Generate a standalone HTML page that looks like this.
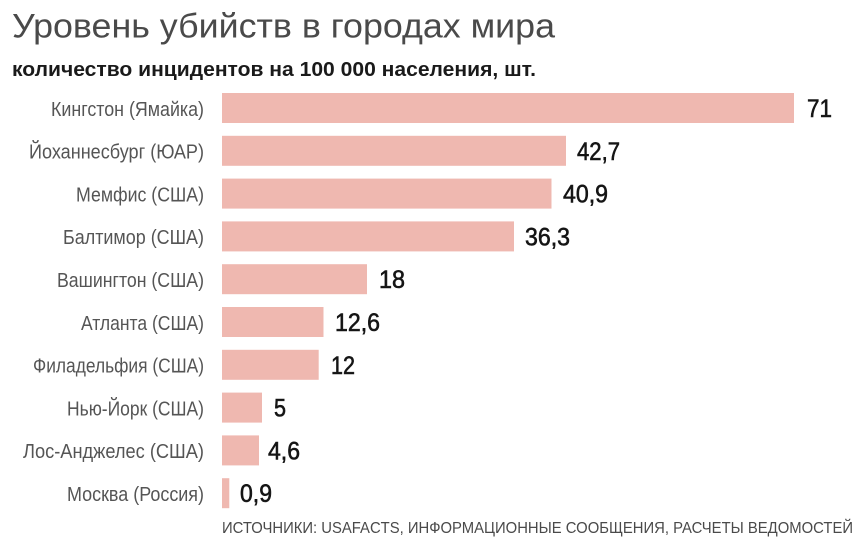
<!DOCTYPE html>
<html>
<head>
<meta charset="utf-8">
<style>
  html, body { margin: 0; padding: 0; background: #ffffff; }
  svg { display: block; }
  text { font-family: "Liberation Sans", "DejaVu Sans", sans-serif; }
</style>
</head>
<body>
<svg width="865" height="545" viewBox="0 0 865 545" xmlns="http://www.w3.org/2000/svg">
  <rect x="0" y="0" width="865" height="545" fill="#ffffff"/>

  <!-- Title -->
  <text x="12" y="37.5" font-size="34" fill="#4a4a4a" textLength="543" lengthAdjust="spacingAndGlyphs">Уровень убийств в городах мира</text>
  <!-- Subtitle -->
  <text x="12" y="76" font-size="20" font-weight="bold" fill="#1a1a1a" textLength="524" lengthAdjust="spacingAndGlyphs">количество инцидентов на 100 000 населения, шт.</text>

  <!-- Bars -->
  <g fill="#efb8b0">
    <rect x="222" y="93" width="572" height="30"/>
    <rect x="222" y="135.8" width="344" height="30"/>
    <rect x="222" y="178.6" width="329.5" height="30"/>
    <rect x="222" y="221.4" width="292" height="30"/>
    <rect x="222" y="264.2" width="145" height="30"/>
    <rect x="222" y="307" width="101.5" height="30"/>
    <rect x="222" y="349.8" width="96.7" height="30"/>
    <rect x="222" y="392.6" width="40" height="30"/>
    <rect x="222" y="435.4" width="37" height="30"/>
    <rect x="222" y="478.2" width="7.3" height="30"/>
  </g>

  <!-- Category labels -->
  <g font-size="20" fill="#555555" text-anchor="end">
    <text x="204" y="115.8" textLength="153" lengthAdjust="spacingAndGlyphs">Кингстон (Ямайка)</text>
    <text x="204" y="158.6" textLength="175" lengthAdjust="spacingAndGlyphs">Йоханнесбург (ЮАР)</text>
    <text x="204" y="201.4" textLength="128" lengthAdjust="spacingAndGlyphs">Мемфис (США)</text>
    <text x="204" y="244.2" textLength="141" lengthAdjust="spacingAndGlyphs">Балтимор (США)</text>
    <text x="204" y="287" textLength="147" lengthAdjust="spacingAndGlyphs">Вашингтон (США)</text>
    <text x="204" y="329.8" textLength="123" lengthAdjust="spacingAndGlyphs">Атланта (США)</text>
    <text x="204" y="372.6" textLength="171" lengthAdjust="spacingAndGlyphs">Филадельфия (США)</text>
    <text x="204" y="415.4" textLength="137" lengthAdjust="spacingAndGlyphs">Нью-Йорк (США)</text>
    <text x="204" y="458.2" textLength="181" lengthAdjust="spacingAndGlyphs">Лос-Анджелес (США)</text>
    <text x="204" y="501" textLength="137" lengthAdjust="spacingAndGlyphs">Москва (Россия)</text>
  </g>

  <!-- Value labels -->
  <g font-size="25" fill="#151515" stroke="#151515" stroke-width="0.6">
    <text x="807" y="117" textLength="25" lengthAdjust="spacingAndGlyphs">71</text>
    <text x="577" y="159.8" textLength="43" lengthAdjust="spacingAndGlyphs">42,7</text>
    <text x="563" y="202.6" textLength="45" lengthAdjust="spacingAndGlyphs">40,9</text>
    <text x="525" y="245.4" textLength="45" lengthAdjust="spacingAndGlyphs">36,3</text>
    <text x="379" y="288.2" textLength="26" lengthAdjust="spacingAndGlyphs">18</text>
    <text x="335" y="331" textLength="45" lengthAdjust="spacingAndGlyphs">12,6</text>
    <text x="331" y="373.8" textLength="24" lengthAdjust="spacingAndGlyphs">12</text>
    <text x="274" y="416.6" textLength="12" lengthAdjust="spacingAndGlyphs">5</text>
    <text x="268" y="459.4" textLength="32" lengthAdjust="spacingAndGlyphs">4,6</text>
    <text x="240" y="502.2" textLength="32" lengthAdjust="spacingAndGlyphs">0,9</text>
  </g>

  <!-- Source -->
  <text x="222" y="533" font-size="16" fill="#4a4a4a" textLength="631" lengthAdjust="spacingAndGlyphs">ИСТОЧНИКИ: USAFACTS, ИНФОРМАЦИОННЫЕ СООБЩЕНИЯ, РАСЧЕТЫ ВЕДОМОСТЕЙ</text>
</svg>
</body>
</html>
